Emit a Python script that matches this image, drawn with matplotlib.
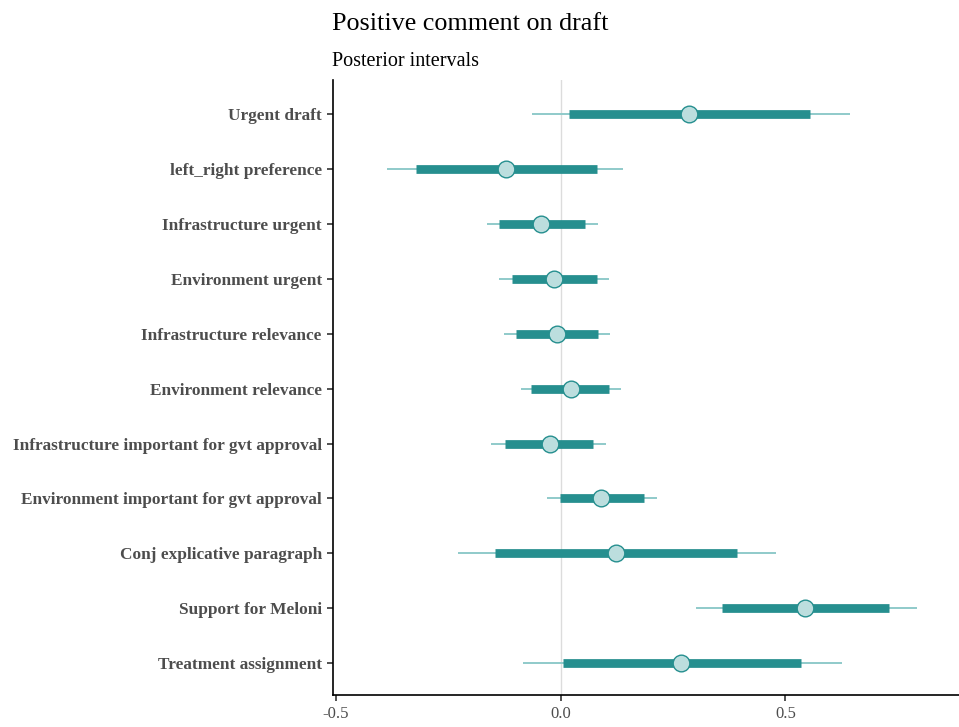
import matplotlib
matplotlib.use('Agg')
import matplotlib.pyplot as plt
import numpy as np

# Posterior summaries: outer (90%) and inner (50%) interval bounds plus median
params = ['Urgent draft', 'left_right preference', 'Infrastructure urgent',
          'Environment urgent', 'Infrastructure relevance',
          'Environment relevance',
          'Infrastructure important for gvt approval',
          'Environment important for gvt approval',
          'Conj explicative paragraph', 'Support for Meloni',
          'Treatment assignment']
ll = [-0.064, -0.386, -0.164, -0.136, -0.126, -0.089, -0.155, -0.030,
      -0.229, 0.302, -0.083]
l = [0.018, -0.321, -0.136, -0.108, -0.098, -0.065, -0.123, -0.002,
     -0.145, 0.358, 0.005]
m = [0.286, -0.121, -0.043, -0.014, -0.008, 0.024, -0.024, 0.089,
     0.124, 0.543, 0.267]
h = [0.555, 0.080, 0.055, 0.080, 0.083, 0.107, 0.073, 0.186,
     0.392, 0.730, 0.535]
hh = [0.643, 0.139, 0.083, 0.107, 0.111, 0.135, 0.101, 0.214,
      0.479, 0.792, 0.626]
xticks = [-0.5, 0.0, 0.5]
xtick_labels = ['-0.5', '0.0', '0.5']

DARK = '#268f8f'
LIGHT = '#8fcaca'
FILL = '#bcdede'

plt.rcParams['font.family'] = ['Liberation Serif', 'DejaVu Serif']

fig = plt.figure(figsize=(9.59, 7.27), dpi=100)
ax = fig.add_axes([0.3472, 0.044, 0.6528, 0.846])

y = np.arange(len(params))[::-1] + 1

ax.axvline(0, color='#dcdcdc', lw=1.0, zorder=0)
ax.hlines(y, ll, hh, color=LIGHT, lw=1.4, zorder=1)
ax.hlines(y, l, h, color=DARK, lw=6.3, zorder=2)
ax.plot(m, y, 'o', ms=12, mfc=FILL, mec=DARK, mew=1.0, zorder=3)

ax.set_xlim(-0.506, 0.886)
ax.set_ylim(0.42, len(params) + 0.62)
ax.set_yticks(y)
ax.set_yticklabels(params, fontsize=12.4, fontweight='bold', color='#4d4d4d')
ax.set_xticks(xticks)
ax.set_xticklabels(xtick_labels, fontsize=12, color='#4d4d4d')
ax.tick_params(axis='both', length=4, width=1.2, color='#333333', pad=4)

for side in ['top', 'right']:
    ax.spines[side].set_visible(False)
for side in ['left', 'bottom']:
    ax.spines[side].set_linewidth(1.2)
    ax.spines[side].set_color('black')

fig.text(0.3462, 1 - 30 / 727, 'Positive comment on draft', fontsize=18.8,
         va='baseline', ha='left', color='black')
fig.text(0.3462, 1 - 66 / 727, 'Posterior intervals', fontsize=14.5,
         va='baseline', ha='left', color='black')

fig.savefig('out.png', dpi=100)
